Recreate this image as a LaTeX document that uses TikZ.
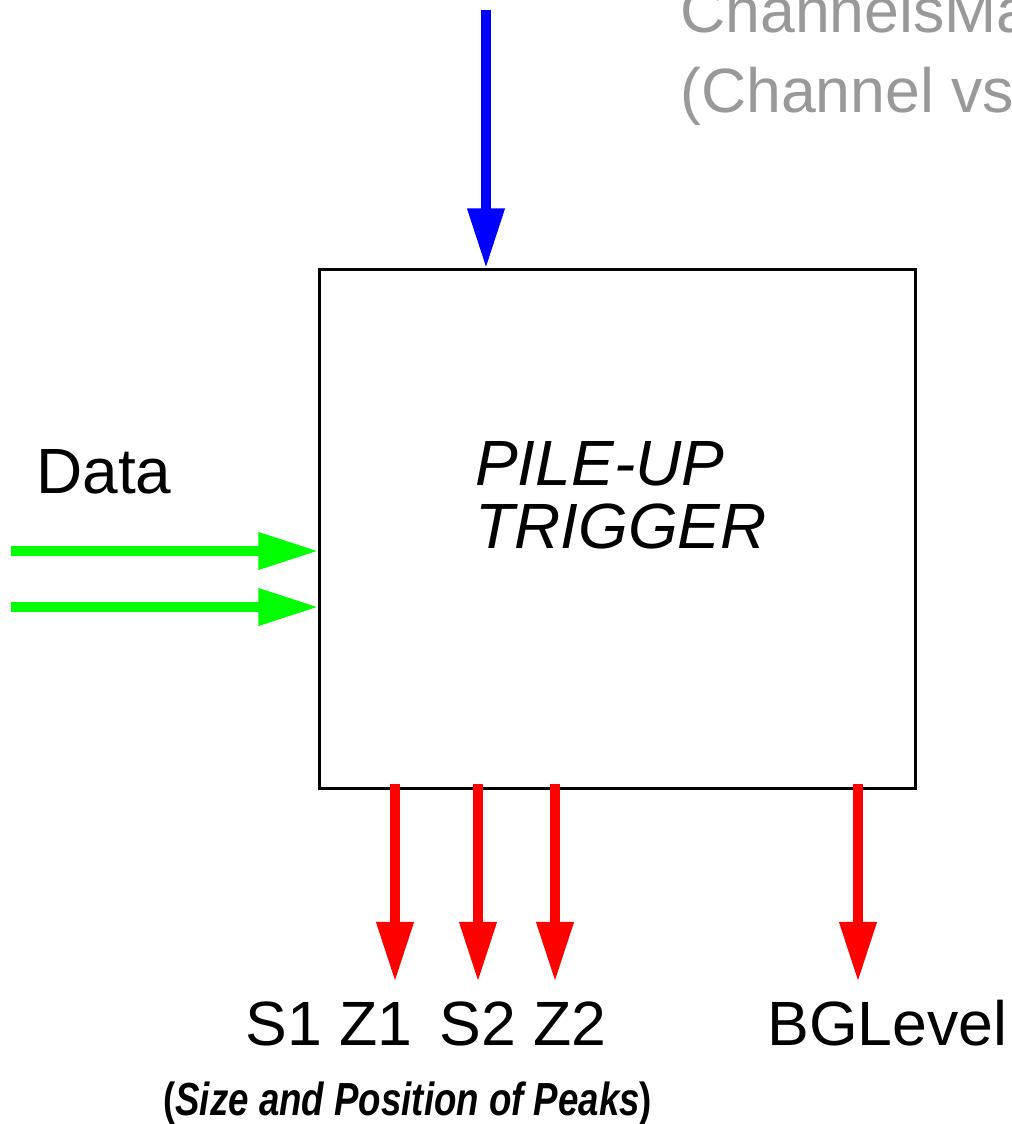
\documentclass[tikz,border=0pt]{standalone}
\usepackage{fontspec}
\setmainfont{Liberation Sans}
\newfontfamily\narrowfont[FakeStretch=0.79]{Liberation Sans}
\usetikzlibrary{arrows.meta, positioning}
\definecolor{mapgray}{RGB}{153,153,153}

\begin{document}
\begin{tikzpicture}[
x=0.025cm, y=-0.025cm,
box/.style={rectangle, draw=black, line width=0.075cm,
minimum width=14.875cm, minimum height=12.95cm},
lbl/.style={inner sep=0pt, anchor=base west, font=\fontsize{44.5pt}{44.5pt}\selectfont},
arrow/.style={-{Triangle[length=1.5cm, width=0.875cm]}, line width=0.25cm}
]
\useasboundingbox (0,0) rectangle (1012,1124);
\clip (0,0) rectangle (1012,1124);

\node[box] (trigger) at (617.5,529) {};
\node[lbl, anchor=north west, align=left, font=\fontsize{45.5pt}{44.8pt}\selectfont\itshape] (triggertext) at (475,441) {PILE-UP\\TRIGGER};

\node[lbl, anchor=north west, align=left, text=mapgray, font=\fontsize{44.5pt}{56.9pt}\selectfont] (channelsmap) at (680,-13) {ChannelsMa\\(Channel vs};

\node[lbl, font=\fontsize{45.5pt}{45.5pt}\selectfont] (data) at (36,493) {Data};
\node[lbl] (s1z1) at (245,1045) {S1 Z1};
\node[lbl] (s2z2) at (439,1045) {S2 Z2};
\node[lbl] (bglevel) at (767,1045) {BGLevel};
\node[inner sep=0pt, anchor=base west, font=\narrowfont\fontsize{33pt}{33pt}\selectfont\bfseries] (peaks) at (163,1115) {(\textit{Size and Position of Peaks})};

\coordinate (mapin) at (486,10);
\coordinate (datain1) at (11,551);
\coordinate (datain2) at (11,607);
\coordinate (s1) at (395,982);
\coordinate (s2) at (478,982);
\coordinate (s3) at (555,982);
\coordinate (bg) at (858,982);

\draw[arrow, blue] (mapin) -- (mapin |- trigger.north);
\draw[arrow, green] (datain1) -- (datain1 -| trigger.west);
\draw[arrow, green] (datain2) -- (datain2 -| trigger.west);
\draw[arrow, red, shorten <=-0.15cm] (trigger.south -| s1) -- (s1);
\draw[arrow, red, shorten <=-0.15cm] (trigger.south -| s2) -- (s2);
\draw[arrow, red, shorten <=-0.15cm] (trigger.south -| s3) -- (s3);
\draw[arrow, red, shorten <=-0.15cm] (trigger.south -| bg) -- (bg);

\end{tikzpicture}
\end{document}
